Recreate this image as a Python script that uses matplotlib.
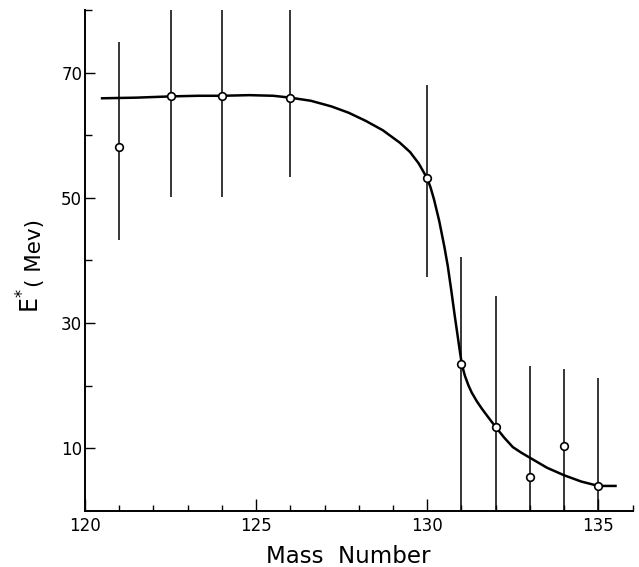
"""
E*(Mev) vs Mass Number — 측정점 + 손으로 그린 추세선 재현
"""
import matplotlib
matplotlib.use("Agg")
import matplotlib.pyplot as plt
from matplotlib.ticker import FixedLocator, MultipleLocator

plt.rcParams["font.family"] = ["DejaVu Sans"]

# 측정점
mass = [121, 122.5, 124, 126, 130, 131, 132, 133, 134, 135]
energy = [58.2, 66.2, 66.3, 66.0, 53.1, 23.5, 13.4, 5.4, 10.4, 4.0]
err_low = [43.3, 50.2, 50.2, 53.4, 37.4, 0, 0, 0, 0, 0]
err_high = [74.9, 80, 80, 80, 68.1, 40.5, 34.4, 23.1, 22.6, 21.3]

# 추세선
curve_x = [120.5, 121.5, 122.5, 123.3, 124.0, 124.8, 125.5, 126.0, 126.6, 127.2,
           127.7, 128.2, 128.7, 129.2, 129.5, 129.75, 130.0, 130.1, 130.2, 130.35,
           130.5, 130.6, 130.7, 130.8, 130.9, 130.95, 131.0, 131.05, 131.1, 131.2,
           131.3, 131.45, 131.6, 131.75, 132.0, 132.25, 132.5, 132.75, 133.0, 133.5,
           134.0, 134.5, 135.0, 135.5]
curve_y = [65.9, 66.0, 66.2, 66.3, 66.3, 66.4, 66.3, 66.0, 65.5, 64.6,
           63.6, 62.3, 60.8, 58.8, 57.3, 55.5, 53.1, 51.6, 49.7, 46.3,
           42.2, 39.1, 35.3, 31.3, 27.5, 25.6, 23.8, 22.6, 21.6, 20.1,
           18.9, 17.5, 16.3, 15.2, 13.4, 11.7, 10.2, 9.3, 8.5, 6.9,
           5.7, 4.7, 4.0, 4.0]

fig = plt.figure(figsize=(6.39, 5.67), dpi=100)
ax = fig.add_axes([0.133, 0.0988, 0.857, 0.8836])

ax.plot(curve_x, curve_y, color="black", linewidth=1.8, zorder=2,
        solid_joinstyle="round")

for x, lo, hi in zip(mass, err_low, err_high):
    ax.vlines(x, lo, hi, color="black", linewidth=1.1, zorder=1)

ax.plot(mass, energy, "o", markersize=5.5, markerfacecolor="white",
        markeredgecolor="black", markeredgewidth=1.2, zorder=3)

ax.set_xlim(120, 136)
ax.set_ylim(0, 80)

for side in ["top", "right"]:
    ax.spines[side].set_visible(False)
for side in ["left", "bottom"]:
    ax.spines[side].set_linewidth(1.4)

ax.xaxis.set_major_locator(FixedLocator([120, 125, 130, 135]))
ax.xaxis.set_minor_locator(MultipleLocator(1))
ax.yaxis.set_major_locator(FixedLocator([10, 30, 50, 70]))
ax.yaxis.set_minor_locator(FixedLocator([20, 40, 60, 80]))

ax.tick_params(axis="x", which="major", direction="in", length=8.5, width=1.0,
               labelsize=12, pad=4)
ax.tick_params(axis="x", which="minor", direction="in", length=4.5, width=1.0)
ax.tick_params(axis="y", which="major", direction="in", length=7, width=1.0,
               labelsize=12, pad=2)
ax.tick_params(axis="y", which="minor", direction="in", length=5, width=1.0)

ax.set_xlabel("Mass  Number", fontsize=16.5)
ax.xaxis.set_label_coords(0.48, -0.068)
ax.xaxis.label.set_va("top")

# 세로 라벨: E* 는 크게, (Mev) 는 작게
fig.text(40 / 639, 1 - 313 / 567, r"E$^{*}$", fontsize=17, rotation=90,
         rotation_mode="anchor", ha="left", va="baseline")
fig.text(41 / 639, 1 - 287 / 567, "( Mev)", fontsize=15.5, rotation=90,
         rotation_mode="anchor", ha="left", va="baseline")

fig.savefig("out.png", dpi=100)
plt.close(fig)
